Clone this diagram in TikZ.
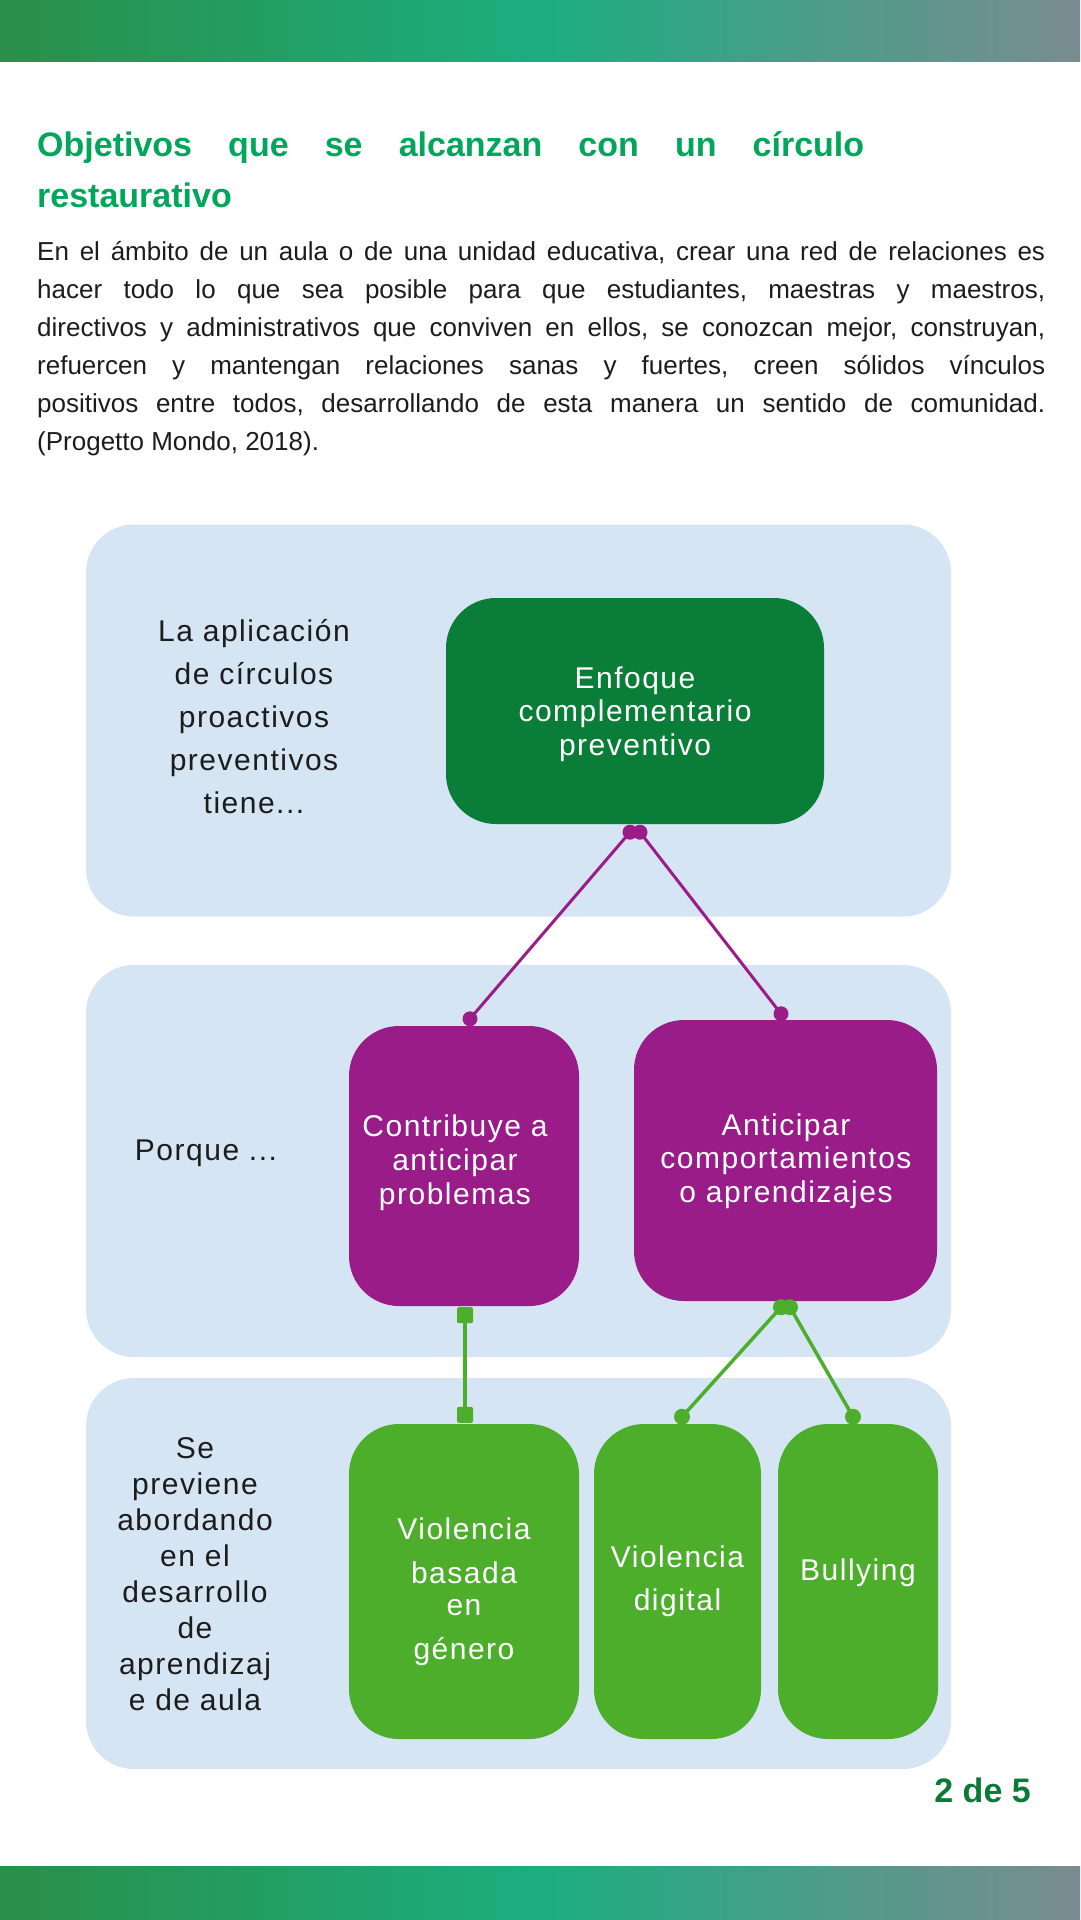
\documentclass[tikz,border=0pt]{standalone}
\usepackage{fontspec}
\setmainfont{Liberation Sans}
\newfontfamily\diagfont[LetterSpace=5]{Liberation Sans}
\newfontfamily\bodyfont{Liberation Sans}
\usetikzlibrary{calc}
\definecolor{barA}{HTML}{2A8F48}
\definecolor{barB}{HTML}{1CAE80}
\definecolor{barC}{HTML}{7A8C91}
\definecolor{titlegreen}{HTML}{00A659}
\definecolor{panelblue}{HTML}{D5E5F3}
\definecolor{darkgreen}{HTML}{0A7D38}
\definecolor{purp}{HTML}{991C89}
\definecolor{lgreen}{HTML}{4DAE2C}
\definecolor{ink}{HTML}{1C1C1C}
\definecolor{pagenum}{HTML}{0B7A36}
\frenchspacing
\begin{document}
\begin{tikzpicture}[x=1pt,y=-1pt,
  panel/.style={rectangle, fill=panelblue, rounded corners=48pt, minimum width=865pt, inner sep=0pt},
  boxshape/.style={rectangle, rounded corners=50pt, inner sep=0pt},
  boxtext/.style={inner sep=0pt, anchor=base, text=white, font={\diagfont\fontsize{30}{34}\selectfont}},
  sidetext/.style={inner sep=0pt, anchor=base, text=ink, font={\diagfont\fontsize{30}{34}\selectfont}},
  pline/.style={draw=purp, line width=3pt},
  gline/.style={draw=lgreen, line width=3.5pt},
  bar/.style={left color=barA, right color=barC, middle color=barB},
]
\useasboundingbox (0,0) rectangle (1080,1920);
\fill[white] (0,0) rectangle (1080,1920);
\shade[bar] (0,0) rectangle (1080,61);
\shade[bar] (0,1866) rectangle (1080,1920);

% title and paragraph
\node[inner sep=0pt, anchor=base west, text=titlegreen] (title) at (37,156)
 {\vtop{\hsize=827pt\parindent=0pt\fontsize{34}{51}\selectfont\bfseries
  \makebox[\hsize][s]{Objetivos que se alcanzan con un círculo}\par
  restaurativo\par}};
\node[inner sep=0pt, anchor=base west, text=ink, font=\bodyfont] (body) at (37,260)
 {\vtop{\hsize=1008pt\parindent=0pt\fontsize{26}{38}\selectfont\frenchspacing
  \makebox[\hsize][s]{En el ámbito de un aula o de una unidad educativa, crear una red de relaciones es}\par
  \makebox[\hsize][s]{hacer todo lo que sea posible para que estudiantes, maestras y maestros,}\par
  \makebox[\hsize][s]{directivos y administrativos que conviven en ellos, se conozcan mejor, construyan,}\par
  \makebox[\hsize][s]{refuercen y mantengan relaciones sanas y fuertes, creen sólidos vínculos}\par
  \makebox[\hsize][s]{positivos entre todos, desarrollando de esta manera un sentido de comunidad.}\par
  (Progetto Mondo, 2018).\par}};

% panels
\node[panel, minimum height=392pt] (p1) at (518.5,720.5) {};
\node[panel, minimum height=392pt] (p2) at (518.5,1161) {};
\node[panel, minimum height=391pt] (p3) at (518.5,1573.5) {};

% boxes
\node[boxshape, fill=darkgreen, minimum width=378pt, minimum height=226pt] (enf) at (635,711) {};
\node[boxshape, fill=purp, minimum width=230pt, minimum height=280pt] (cA) at (464,1166) {};
\node[boxshape, fill=purp, minimum width=303pt, minimum height=281pt] (cB) at (785.5,1160.5) {};
\node[boxshape, fill=lgreen, minimum width=230pt, minimum height=315pt] (cC) at (464,1581.5) {};
\node[boxshape, fill=lgreen, minimum width=167pt, minimum height=315pt] (cD) at (677.5,1581.5) {};
\node[boxshape, fill=lgreen, minimum width=160pt, minimum height=315pt] (cE) at (858,1581.5) {};

% box texts
\node[boxtext] (tEnf) at (635,688) {\vtop{\hsize=370pt\parindent=0pt\centering\fontsize{30}{33.5}\selectfont Enfoque\par complementario\par preventivo\par}};
\node[boxtext] (tA) at (455,1136) {\vtop{\hsize=226pt\parindent=0pt\centering\fontsize{30}{34}\selectfont Contribuye a\par anticipar\par problemas\par}};
\node[boxtext] (tB) at (786,1135) {\vtop{\hsize=300pt\parindent=0pt\centering\fontsize{30}{33.5}\selectfont Anticipar\par comportamientos\par o aprendizajes\par}};
\node[boxtext] (tC) at (464,1539) {\vtop{\hsize=226pt\parindent=0pt\centering\fontsize{30}{34}\selectfont Violencia\par\vspace{10pt}basada\par\vspace{-2pt}en\par\vspace{10pt}género\par}};
\node[boxtext] (tD) at (677.5,1567) {\vtop{\hsize=165pt\parindent=0pt\centering\fontsize{30}{43}\selectfont Violencia\par digital\par}};
\node[boxtext] (tE) at (858,1580) {Bullying};

% side texts
\node[sidetext] (s1) at (254,641) {\vtop{\hsize=250pt\parindent=0pt\centering\fontsize{30}{43}\selectfont La aplicación\par de círculos\par proactivos\par preventivos\par tiene...\par}};
\node[sidetext] (s2) at (206,1160) {Porque ...};
\node[sidetext] (s3) at (195,1458) {\vtop{\hsize=200pt\parindent=0pt\centering\fontsize{30}{36}\selectfont Se\par previene\par abordando\par en el\par desarrollo\par de\par aprendizaj\par e de aula\par}};

% purple connectors
\coordinate (a1) at ($(enf.south)+(-5,8)$);
\coordinate (a2) at ($(enf.south)+(5,8)$);
\coordinate (a3) at ($(cA.north)+(6,-7)$);
\coordinate (a4) at ($(cB.north)+(-4.5,-6)$);
\draw[pline] (a1) -- (a3);
\draw[pline] (a2) -- (a4);
\foreach \c in {a1,a2,a3,a4} \fill[purp] (\c) circle (7.5pt);

% green connectors
\coordinate (g1) at ($(cA.south)+(1,9)$);
\coordinate (g2) at ($(cC.north)+(1,-9)$);
\draw[gline] (g1) -- (g2);
\foreach \c in {g1,g2} \fill[lgreen, rounded corners=2pt] ($(\c)+(-8,-8)$) rectangle ($(\c)+(8,8)$);
\coordinate (g3) at ($(cB.south)+(-4.5,6)$);
\coordinate (g4) at ($(cB.south)+(4.5,6)$);
\coordinate (g5) at ($(cD.north)+(4.5,-7)$);
\coordinate (g6) at ($(cE.north)+(-5,-7)$);
\draw[gline] (g3) -- (g5);
\draw[gline] (g4) -- (g6);
\foreach \c in {g3,g4,g5,g6} \fill[lgreen] (\c) circle (8pt);

% page number
\node[inner sep=0pt, anchor=base east, text=pagenum, font={\bfseries\fontsize{34}{40}\selectfont}] (pg) at (1031,1802) {2 de 5};
\end{tikzpicture}
\end{document}
